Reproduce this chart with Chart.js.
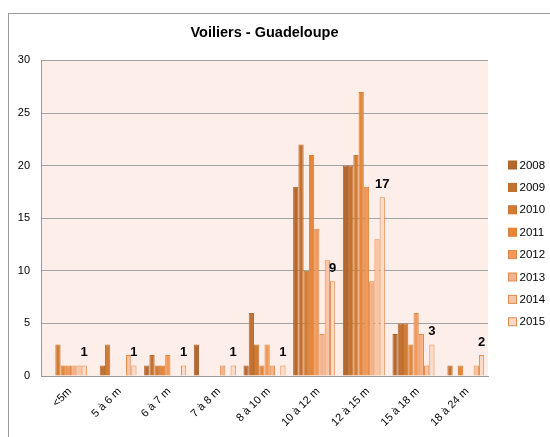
<!DOCTYPE html>
<html>
<head>
<meta charset="utf-8">
<script src="https://cdn.jsdelivr.net/npm/chart.js@4/dist/chart.umd.min.js"></script>
<style>
html,body{margin:0;padding:0;background:#fff;}
#wrap{width:550px;height:437px;position:relative;}
</style>
</head>
<body>
<div id="wrap"><canvas id="c" width="550" height="437"></canvas></div>
<script>
const categories = ['<5m','5 à 6 m','6 à 7 m','7 à 8 m','8 à 10 m','10 à 12 m','12 à 15 m','15 à 18 m','18 à 24 m'];
const years = ['2008','2009','2010','2011','2012','2013','2014','2015'];
const v2008 = [null, null, 1, 3, 1, 18, 20, 4, null];
const v2009 = [null, 1, 2, null, 6, 22, 20, 5, 1];
const v2010 = [3, 3, 1, null, 3, 10, 21, 5, null];
const v2011 = [1, null, 1, null, 1, 21, 27, 3, 1];
const v2012 = [1, null, 2, null, 3, 14, 18, 6, null];
const v2013 = [1, null, null, 1, 1, 4, 9, 4, null];
const v2014 = [1, 2, null, null, null, 11, 13, 1, 1];
const v2015 = [1, 1, 1, 1, 1, 9, 17, 3, 2];
const yTicks = [0, 5, 10, 15, 20, 25, 30];
const labelledSeries = '2015';

const seriesValues = [v2008, v2009, v2010, v2011, v2012, v2013, v2014, v2015];
const fills = ['#B5682D','#C4712F','#D27B33','#E5873B','#F0995A','#F5B189','#F8C5A6','#FADBCA'];
const borders = ['#A9612A','#B8692C','#C8742F','#D97F36','#E0863F','#E48B4C','#E48B4C','#E48B4C'];
const FONT = "'Liberation Sans', Arial, sans-serif";

const datasets = years.map((y, i) => ({
  label: y,
  data: seriesValues[i],
  backgroundColor: fills[i],
  borderColor: borders[i],
  borderWidth: 1,
  borderSkipped: 'start',
  barPercentage: 1.0,
  categoryPercentage: 0.847
}));

const framePlugin = {
  id: 'frame',
  beforeDraw(chart) {
    const ctx = chart.ctx, a = chart.chartArea;
    ctx.save();
    ctx.fillStyle = '#ffffff';
    ctx.fillRect(0, 0, chart.width, chart.height);
    ctx.strokeStyle = '#9a9a9a';
    ctx.lineWidth = 1;
    ctx.strokeRect(8.5, 13.5, 700, 600);
    ctx.fillStyle = '#FDEEE9';
    ctx.fillRect(a.left, a.top, a.right - a.left, a.bottom - a.top);
    ctx.restore();
  }
};

const labelPlugin = {
  id: 'valLabels',
  afterDatasetsDraw(chart) {
    const ctx = chart.ctx;
    chart.data.datasets.forEach((ds, di) => {
      if (ds.label !== labelledSeries) return;
      const meta = chart.getDatasetMeta(di);
      ctx.save();
      ctx.font = "bold 13px " + FONT;
      ctx.fillStyle = '#000';
      ctx.textAlign = 'center';
      ctx.textBaseline = 'alphabetic';
      meta.data.forEach((bar, i) => {
        const v = ds.data[i];
        if (v === null || v === undefined) return;
        ctx.fillText(String(v), bar.x, bar.y - 9);
      });
      ctx.restore();
    });
  }
};

const legendPlugin = {
  id: 'sideLegend',
  afterDraw(chart) {
    const ctx = chart.ctx;
    ctx.save();
    ctx.font = "11.5px " + FONT;
    ctx.textBaseline = 'middle';
    ctx.textAlign = 'left';
    chart.data.datasets.forEach((ds, i) => {
      const cy = 165 + i * 22.4;
      ctx.fillStyle = ds.backgroundColor;
      ctx.fillRect(508.5, cy - 4, 8, 8);
      ctx.strokeStyle = ds.borderColor;
      ctx.lineWidth = 1;
      ctx.strokeRect(508.5, cy - 4, 8, 8);
      ctx.fillStyle = '#000';
      ctx.fillText(ds.label, 519.5, cy + 0.5);
    });
    ctx.restore();
  }
};

new Chart(document.getElementById('c'), {
  type: 'bar',
  data: { labels: categories, datasets },
  options: {
    responsive: false,
    animation: false,
    layout: { padding: { left: 0, right: 62, top: 0, bottom: 0 } },
    plugins: {
      legend: { display: false },
      tooltip: { enabled: false },
      title: {
        display: true,
        text: 'Voiliers - Guadeloupe',
        fullSize: false,
        color: '#000',
        font: { family: FONT, size: 14.5, weight: 'bold', lineHeight: 1.2 },
        padding: { top: 24, bottom: 19 }
      }
    },
    scales: {
      x: {
        grid: { display: false, drawTicks: false },
        border: { display: true, color: '#9a9a9a', width: 1 },
        ticks: {
          color: '#000',
          font: { family: FONT, size: 11 },
          minRotation: 45, maxRotation: 45,
          padding: 9,
          labelOffset: 4,
          autoSkip: false
        },
        afterFit(s) { s.height = 61; }
      },
      y: {
        min: 0, max: 30,
        afterBuildTicks(s) { s.ticks = yTicks.map(v => ({ value: v })); },
        grid: { color: '#a3a3a3', drawTicks: false, lineWidth: 1 },
        border: { display: true, color: '#9a9a9a', width: 1 },
        ticks: {
          color: '#000',
          font: { family: FONT, size: 11 },
          padding: 11
        },
        afterFit(s) { s.width = 41; }
      }
    }
  },
  plugins: [framePlugin, labelPlugin, legendPlugin]
});
</script>
</body>
</html>
